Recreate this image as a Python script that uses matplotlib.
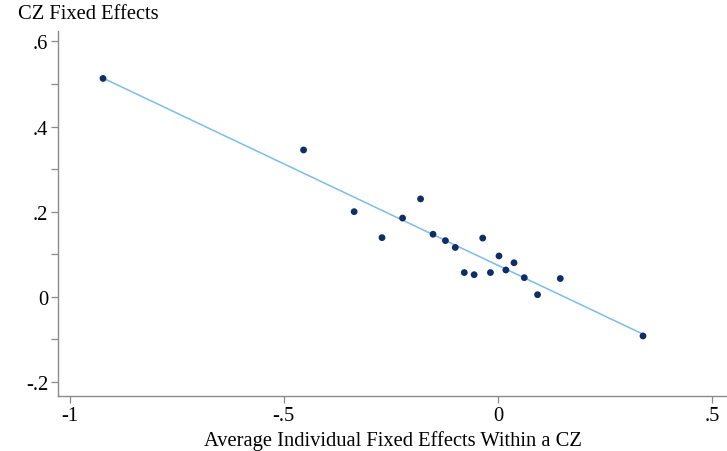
import numpy as np
import matplotlib
matplotlib.use("Agg")
import matplotlib.pyplot as plt
from matplotlib.ticker import MultipleLocator

# binned scatter: average individual FE (x) vs CZ FE (y)
x_vals = [-0.922, -0.454, -0.336, -0.271, -0.223, -0.181, -0.152, -0.123, -0.100, -0.079,
          -0.056, -0.036, -0.018, 0.002, 0.018, 0.037, 0.061, 0.092, 0.145, 0.338]
y_vals = [0.513, 0.345, 0.200, 0.139, 0.185, 0.230, 0.147, 0.132, 0.116, 0.057,
          0.052, 0.138, 0.057, 0.096, 0.063, 0.080, 0.045, 0.005, 0.043, -0.092]

x_ticks = [-1, -0.5, 0, 0.5]
x_tick_labels = ["-1", "-.5", "0", ".5"]
y_ticks = [-0.2, 0, 0.2, 0.4, 0.6]
y_tick_labels = ["-.2", "0", ".2", ".4", ".6"]

plt.rcParams["font.family"] = ["Liberation Serif", "DejaVu Serif"]

fig = plt.figure(figsize = (7.27, 4.52), dpi = 100)
ax = fig.add_axes([0.0798, 0.1217, 0.9202, 0.808])

x = np.array(x_vals)
y = np.array(y_vals)
slope, intercept = np.polyfit(x, y, 1)
xs = np.array([x.min(), x.max()])

ax.plot(xs, slope * xs + intercept, color = "#7cbde8", linewidth = 1.1, zorder = 2)
ax.scatter(x, y, s = 24, color = "#0f2e66", edgecolors = "none", zorder = 3)

ax.set_xlim(-1.027, 0.534)
ax.set_ylim(-0.233, 0.625)

ax.set_xticks(x_ticks)
ax.set_xticklabels(x_tick_labels)
ax.set_yticks(y_ticks)
ax.set_yticklabels(y_tick_labels)
ax.yaxis.set_minor_locator(MultipleLocator(0.1))

for side in ["top", "right"]:
    ax.spines[side].set_visible(False)
for side in ["left", "bottom"]:
    ax.spines[side].set_color("#8a8a8a")
    ax.spines[side].set_linewidth(1.0)

ax.tick_params(axis = "both", which = "both", direction = "out", length = 5, width = 0.9,
               color = "#8a8a8a", labelsize = 14.8, labelcolor = "black", pad = 2)

ax.set_xlabel("Average Individual Fixed Effects Within a CZ", fontsize = 14.8, labelpad = 4)
fig.text(0.025, 0.967, "CZ Fixed Effects", fontsize = 14.8, ha = "left", va = "center")

fig.savefig("out.png", dpi = 100)
